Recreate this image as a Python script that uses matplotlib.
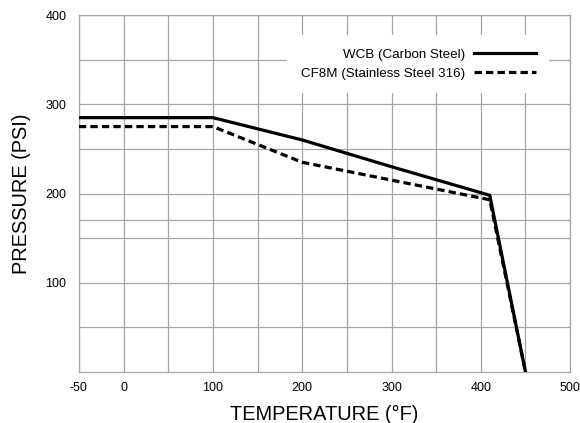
import matplotlib.pyplot as plt

plt.rcParams["font.family"] = ["Liberation Sans", "DejaVu Sans"]
plt.rcParams["axes.unicode_minus"] = False

# pressure / temperature rating curves
wcbTemp = [-50, 100, 200, 300, 410, 450]
wcbPsi = [285, 285, 260, 230, 198, 0]
cf8mTemp = [-50, 100, 200, 300, 410, 450]
cf8mPsi = [275, 275, 235, 215, 193, 0]

xLabels = [-50, 0, 100, 200, 300, 400, 500]
xGrid = [-50, 0, 50, 100, 150, 200, 250, 300, 350, 400, 450, 500]
yLabels = [100, 200, 300, 400]
yGrid = [50, 150, 170, 250, 350]

gridColor = "#a6a6a6"
lineWidth = 2.3

fig = plt.figure(figsize=(5.8, 4.23), dpi=100)
ax = fig.add_axes([0.136, 0.1206, 0.847, 0.8439])

ax.plot(wcbTemp, wcbPsi, color="black", lw=lineWidth, label="WCB (Carbon Steel)",
        solid_joinstyle="miter", zorder=3)
ax.plot(cf8mTemp, cf8mPsi, color="black", lw=lineWidth, dashes=(2.3, 1.3),
        label="CF8M (Stainless Steel 316)", zorder=3)

ax.set_xlim(-50, 500)
ax.set_ylim(0, 400)
ax.set_xticks(xLabels)
ax.set_xticks(xGrid, minor=True)
ax.set_yticks(yLabels)
ax.set_yticks(yGrid, minor=True)
ax.tick_params(which="both", length=0, labelsize=9, colors="black")
ax.tick_params(axis="x", pad=7)
ax.tick_params(axis="y", pad=9)
ax.grid(which="both", color=gridColor, lw=0.9)
ax.set_axisbelow(True)
for s in ax.spines.values():
    s.set_color(gridColor)
    s.set_linewidth(0.9)

ax.set_xlabel("TEMPERATURE (°F)", fontsize=14.4, labelpad=8)
ax.set_ylabel("PRESSURE (PSI)", fontsize=14.4, labelpad=10)

leg = ax.legend(loc="upper right", bbox_to_anchor=(0.957, 0.944), markerfirst=False,
                fontsize=9.6, handlelength=4.6, frameon=True, fancybox=False,
                borderaxespad=0, borderpad=1.0, labelspacing=0.5, handletextpad=0.7)
leg.get_frame().set_edgecolor("none")
leg.get_frame().set_facecolor("white")
leg.get_frame().set_alpha(1)

plt.savefig("out.png", dpi=100)
